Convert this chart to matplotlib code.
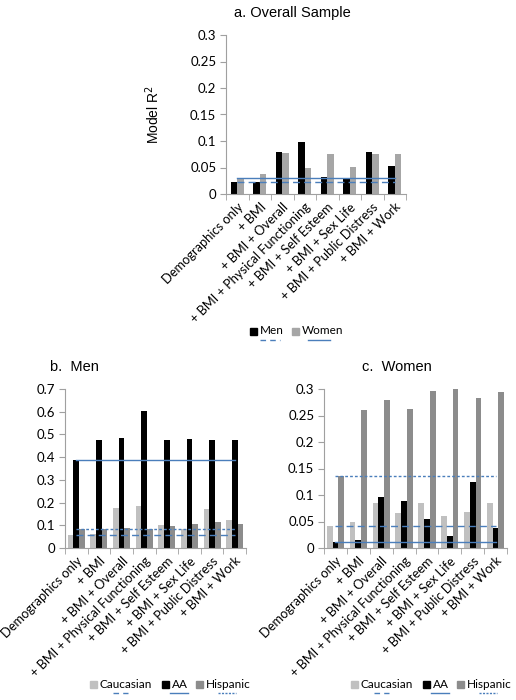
import matplotlib.pyplot as plt
import numpy as np
from matplotlib.lines import Line2D
from matplotlib.patches import Rectangle

# Data
models = ["Demographics only", "+ BMI", "+ BMI + Overall", "+ BMI + Physical Functioning",
          "+ BMI + Self Esteem", "+ BMI + Sex Life", "+ BMI + Public Distress", "+ BMI + Work"]

overall_men = [0.022, 0.022, 0.079, 0.098, 0.032, 0.030, 0.080, 0.052]
overall_women = [0.030, 0.037, 0.078, 0.050, 0.076, 0.051, 0.076, 0.075]

men_caucasian = [0.058, 0.060, 0.175, 0.187, 0.100, 0.085, 0.172, 0.123]
men_aa = [0.388, 0.476, 0.484, 0.604, 0.476, 0.481, 0.476, 0.476]
men_hispanic = [0.082, 0.082, 0.088, 0.082, 0.095, 0.104, 0.115, 0.106]

women_caucasian = [0.041, 0.049, 0.085, 0.066, 0.084, 0.061, 0.068, 0.085]
women_aa = [0.011, 0.015, 0.096, 0.088, 0.055, 0.023, 0.125, 0.038]
women_hispanic = [0.135, 0.260, 0.279, 0.263, 0.297, 0.300, 0.283, 0.294]

W, H = 516, 700
BLUE = "#4a7ebb"
C_LIGHT = "#c0c0c0"
C_MID = "#8c8c8c"
C_WOMEN = "#a6a6a6"
TICKFONT = "Lato"
TITLEFONT = "Liberation Sans"

fig = plt.figure(figsize=(W / 100, H / 100), dpi=100)


def px_axes(x0, y0, x1, y1):
    return fig.add_axes([x0 / W, 1 - y1 / H, (x1 - x0) / W, (y1 - y0) / H])


def style(ax, ymax, step, fmt):
    n = len(models)
    ax.set_xlim(-0.5, n - 0.5)
    ax.set_ylim(0, ymax)
    ax.set_yticks(np.arange(0, ymax + step / 2, step))
    ax.set_yticklabels([fmt(v) for v in np.arange(0, ymax + step / 2, step)],
                       fontsize=9.5, family=TICKFONT)
    ax.set_xticks(np.arange(n))
    ax.set_xticklabels(models, rotation=45, ha="right", va="top",
                       rotation_mode="anchor", fontsize=9.3, family=TICKFONT)
    ax.tick_params(axis="x", length=0, pad=5)
    ax.set_xticks(np.arange(n + 1) - 0.5, minor=True)
    ax.tick_params(axis="x", which="minor", length=4, color="#a0a0a0")
    ax.tick_params(axis="y", length=4, color="#a0a0a0", pad=3)
    for s in ["top", "right"]:
        ax.spines[s].set_visible(False)
    for s in ["left", "bottom"]:
        ax.spines[s].set_color("#a0a0a0")


def fmt_num(v):
    s = f"{v:.2f}".rstrip("0").rstrip(".")
    return s


x = np.arange(len(models))

# a. Overall sample
ax = px_axes(226, 35, 406, 194)
bw = 0.28
ax.bar(x - bw / 2, overall_men, bw, color="black")
ax.bar(x + bw / 2, overall_women, bw, color=C_WOMEN)
ax.plot([0, 7], [overall_women[0]] * 2, color=BLUE, lw=1)
ax.plot([0, 7], [overall_men[0]] * 2, color=BLUE, lw=1, ls=(0, (5, 3)))
style(ax, 0.3, 0.05, fmt_num)
ax.set_ylabel("Model R$^2$", fontsize=10, family=TITLEFONT, labelpad=20)
fig.text(292 / W, 1 - 13 / H, "a. Overall Sample", ha="center", va="center",
         fontsize=10.5, family=TITLEFONT)

# b. Men
ax = px_axes(65, 389, 246, 548)
bw = 0.25
ax.bar(x - bw, men_caucasian, bw, color=C_LIGHT)
ax.bar(x, men_aa, bw, color="black")
ax.bar(x + bw, men_hispanic, bw, color=C_MID)
ax.plot([0, 7], [men_aa[0]] * 2, color=BLUE, lw=1)
ax.plot([0, 7], [men_caucasian[0]] * 2, color=BLUE, lw=1, ls=(0, (5, 3)))
ax.plot([0, 7], [men_hispanic[0]] * 2, color=BLUE, lw=1, ls=(0, (2, 1.5)))
style(ax, 0.7, 0.1, fmt_num)
fig.text(50 / W, 1 - 367 / H, "b.  Men", ha="left", va="center",
         fontsize=10.5, family=TITLEFONT)

# c. Women
ax = px_axes(324, 389, 507, 548)
ax.bar(x - bw, women_caucasian, bw, color=C_LIGHT)
ax.bar(x, women_aa, bw, color="black")
ax.bar(x + bw, women_hispanic, bw, color=C_MID)
ax.plot([0, 7], [women_aa[0]] * 2, color=BLUE, lw=1)
ax.plot([0, 7], [women_caucasian[0]] * 2, color=BLUE, lw=1, ls=(0, (5, 3)))
ax.plot([0, 7], [women_hispanic[0]] * 2, color=BLUE, lw=1, ls=(0, (2, 1.5)))
style(ax, 0.3, 0.05, fmt_num)
fig.text(362 / W, 1 - 367 / H, "c.  Women", ha="left", va="center",
         fontsize=10.5, family=TITLEFONT)


# Legends drawn in pixel coordinates
def legend_item(xs, y, color, label, line_x, ls):
    fig.patches.append(Rectangle((xs / W, 1 - (y + 3.5) / H), 7 / W, 7 / H,
                                 color=color, transform=fig.transFigure))
    fig.text((xs + 9.5) / W, 1 - y / H, label, ha="left", va="center",
             fontsize=8.5, family=TICKFONT)
    fig.lines.append(Line2D([line_x[0] / W, line_x[1] / W],
                            [1 - (y + 9) / H] * 2, color=BLUE, lw=1, ls=ls,
                            transform=fig.transFigure))


legend_item(250, 331, "black", "Men", (260, 280), (0, (4, 3)))
legend_item(292, 331, C_WOMEN, "Women", (308, 330), "-")

for off in (0, 261):
    legend_item(90 + off, 684, C_LIGHT, "Caucasian", (113 + off, 128 + off), (0, (4, 3)))
    legend_item(162 + off, 684, "black", "AA", (170 + off, 188 + off), "-")
    legend_item(196 + off, 684, C_MID, "Hispanic", (218 + off, 236 + off), (0, (1.5, 1)))

fig.savefig("out.png", dpi=100)
